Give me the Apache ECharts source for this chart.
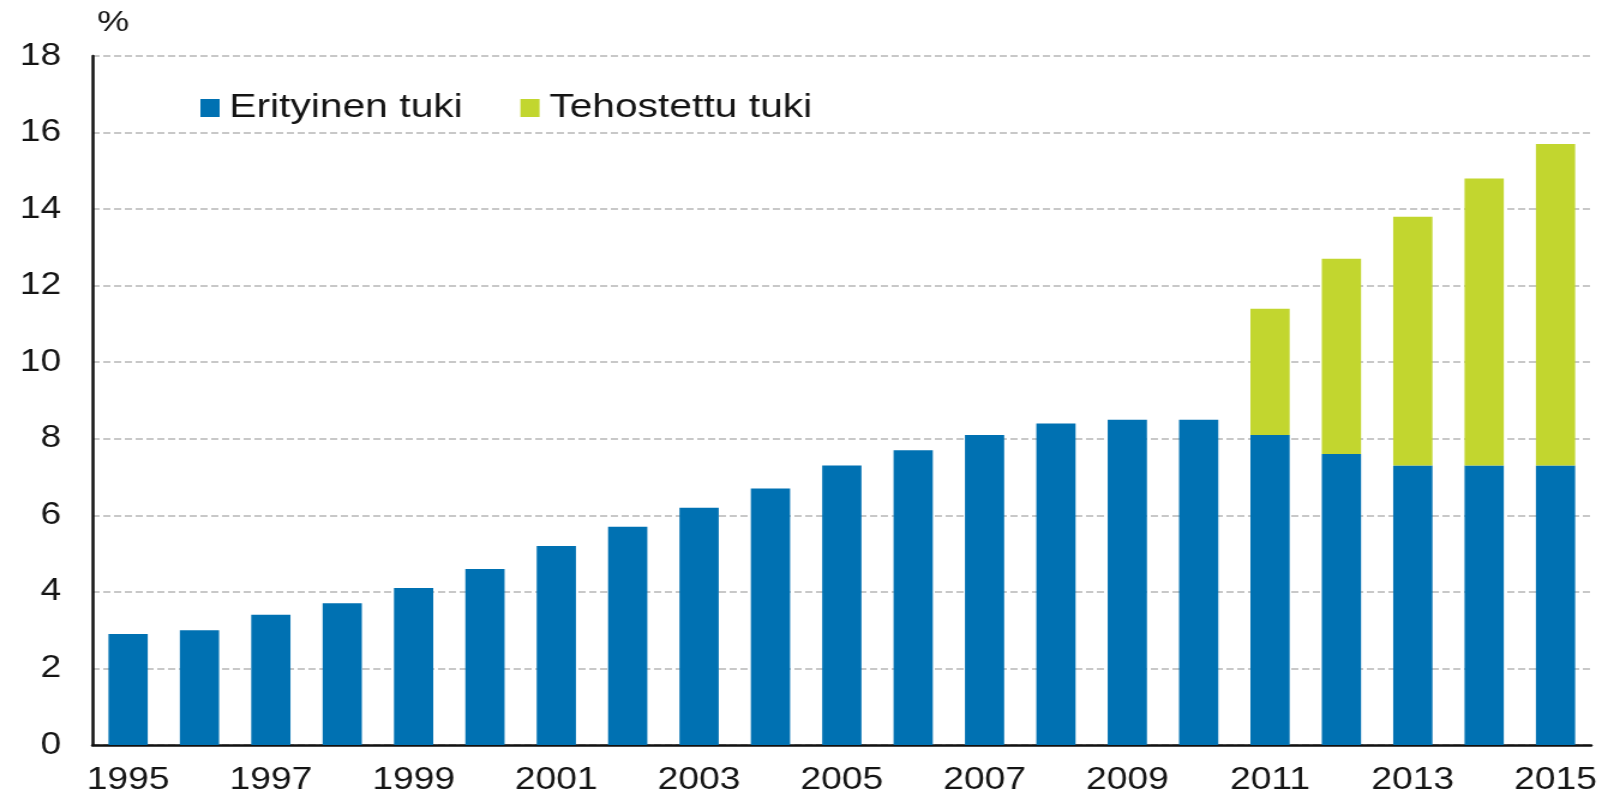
<!DOCTYPE html>
<html>
<head>
<meta charset="utf-8">
<script src="https://cdn.jsdelivr.net/npm/echarts@6/dist/echarts.min.js"></script>
<style>
html, body {
    margin: 0;
    padding: 0;
    background: #fff;
    overflow: hidden;
}
/* the reference is stretched sideways, so draw narrow and widen */
.echart-el {
    width: 1337px;
    height: 801px;
    transform: scaleX(1.2);
    transform-origin: 0 0;
}
</style>
</head>
<body>
<div id="chart" class="echart-el"></div>
<script>
const years = [
    "1995", "1996", "1997", "1998", "1999", "2000", "2001", "2002", "2003", "2004",
    "2005", "2006", "2007", "2008", "2009", "2010", "2011", "2012", "2013", "2014", "2015",
];
const erityinen = [
    2.9, 3.0, 3.4, 3.7, 4.1, 4.6, 5.2, 5.7, 6.2, 6.7,
    7.3, 7.7, 8.1, 8.4, 8.5, 8.5, 8.1, 7.6, 7.3, 7.3, 7.3,
];
const tehostettu = [
    null, null, null, null, null, null, null, null, null, null,
    null, null, null, null, null, null, 3.3, 5.1, 6.5, 7.5, 8.4,
];
const y_ticks = { min: 0, max: 18, interval: 2 };

const font = "Liberation Sans, Arial, sans-serif";
const text_color = "#141414";

let echart_instance = null;

const get_config = function () {
    return {
        animation: false,
        textStyle: {
            fontFamily: font,
        },
        grid: {
            left: 77,
            top: 56,
            right: 11,
            bottom: 56,
        },
        legend: {
            left: 162,
            top: 86,
            itemWidth: 16,
            itemHeight: 18,
            itemGap: 48,
            icon: "rect",
            textStyle: {
                fontSize: 34,
                color: text_color,
                padding: [0, 0, 0, 3],
            },
            data: ["Erityinen tuki", "Tehostettu tuki"],
        },
        xAxis: {
            type: "category",
            data: years,
            axisLine: {
                show: true,
                lineStyle: { color: "#111", width: 2.5 },
            },
            axisTick: {
                show: false,
            },
            axisLabel: {
                interval: 1,
                fontSize: 31,
                color: text_color,
                margin: 20,
            },
        },
        yAxis: {
            type: "value",
            min: y_ticks.min,
            max: y_ticks.max,
            interval: y_ticks.interval,
            name: "%",
            nameLocation: "end",
            nameGap: 18,
            nameTextStyle: {
                fontSize: 30,
                color: text_color,
                align: "left",
                padding: [0, 0, 0, 4],
            },
            splitLine: {
                show: true,
                lineStyle: { color: "#c8c8c8", width: 2, type: [6, 3] },
            },
            axisLine: {
                show: true,
                lineStyle: { color: "#111", width: 2.5 },
            },
            axisTick: {
                show: false,
            },
            axisLabel: {
                fontSize: 31,
                color: text_color,
                margin: 26,
            },
        },
        series: [
            {
                name: "Erityinen tuki",
                type: "bar",
                stack: "tuki",
                barWidth: "55%",
                itemStyle: { color: "#0071b2" },
                data: erityinen,
            },
            {
                name: "Tehostettu tuki",
                type: "bar",
                stack: "tuki",
                barWidth: "55%",
                itemStyle: { color: "#c2d62f" },
                data: tehostettu,
            },
        ],
    };
};

const init = function () {
    echart_instance = echarts.init(document.getElementById("chart"));
    echart_instance.setOption(get_config());
};

init();
</script>
</body>
</html>
